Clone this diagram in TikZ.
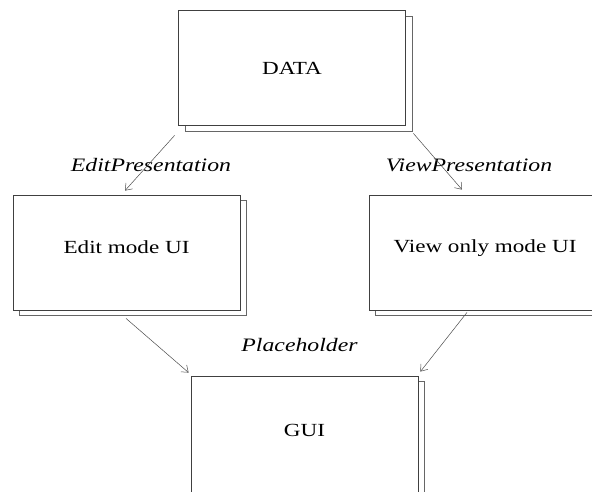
\documentclass[tikz,border=0pt]{standalone}
\usepackage{fontspec}
\setmainfont[FakeStretch=1.25]{Liberation Serif}
\usetikzlibrary{shadows,arrows.meta}

\tikzset{every node/.style={font=\fontsize{18.5}{20}\selectfont}}
\tikzstyle{layer}=[draw=black!75,line width=0.8pt,fill=white,minimum width=227pt,minimum height=115pt,inner sep=0pt,
    copy shadow={shadow xshift=6.5pt,shadow yshift=-5.5pt,draw=black!60,fill=white}]
\tikzstyle{flow}=[draw=black!70,line width=0.5pt,-{Straight Barb[length=6pt,width=9pt]}]
\tikzstyle{role}=[font=\fontsize{19}{21}\selectfont\itshape]

\begin{document}
\begin{tikzpicture}[x=1pt,y=-1pt]
    \useasboundingbox (0,0) rectangle (592,491);
    \node [layer] (data) at (292,68) {DATA};
    \node [layer,text depth=10pt] (edit) at (126.5,252.5) {Edit mode UI};
    \node [layer,minimum width=232pt,text depth=12pt] (view) at (485,252.5) {View only mode UI};
    \node [layer,minimum height=120pt,text depth=12pt] (gui) at (304.5,436) {GUI};

    \node [role] (editrole) at (151,165) {EditPresentation};
    \node [role] (viewrole) at (469,165) {ViewPresentation};
    \node [role] (guirole) at (299.5,345) {Placeholder};

    \draw [flow] ([shift={(-3.5pt,-9.5pt)}]data.south west) -- ([shift={(-1.5pt,4pt)}]edit.north);
    \draw [flow] ([shift={(7.5pt,-7.5pt)}]data.south east) -- ([shift={(-23pt,5pt)}]view.north);
    \draw [flow] ([shift={(-0.5pt,-8pt)}]edit.south) -- ([shift={(-2pt,3pt)}]gui.north west);
    \draw [flow] ([shift={(-18pt,-2pt)}]view.south) -- ([shift={(2pt,4pt)}]gui.north east);
\end{tikzpicture}
\end{document}
